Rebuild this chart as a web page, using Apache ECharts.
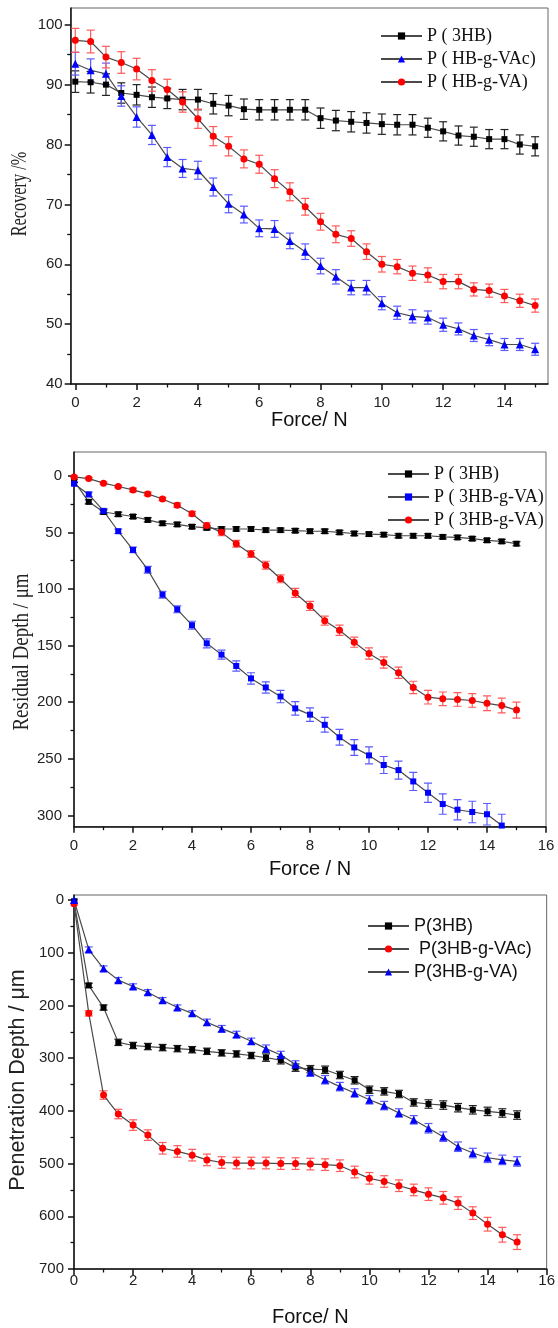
<!DOCTYPE html>
<html>
<head>
<meta charset="utf-8">
<script src="https://cdn.jsdelivr.net/npm/echarts@6/dist/echarts.min.js"></script>
<style>
html,body{margin:0;padding:0;background:#fff}
#chart{width:558px;height:1328px}
</style>
</head>
<body>
<div id="chart"></div>
<script>
// ---- Force steps (N) ----
const force = [0,0.5,1,1.5,2,2.5,3,3.5,4,4.5,5,5.5,6,6.5,7,7.5,8,8.5,9,9.5,10,10.5,11,11.5,12,12.5,13,13.5,14,14.5,15];

// ---- Recovery (%) ----
const rec3HB    = [90.5,90.4,90.0,88.6,88.3,87.9,87.7,87.5,87.5,86.8,86.5,85.9,85.8,85.8,85.8,85.8,84.4,84.0,83.8,83.6,83.4,83.3,83.3,82.8,82.2,81.5,81.3,80.9,80.9,80.0,79.7];
const rec3HBErr = [1.8,1.8,1.8,1.7,1.7,1.7,1.7,1.7,1.7,1.7,1.7,1.7,1.7,1.7,1.7,1.7,1.7,1.7,1.7,1.7,1.7,1.7,1.7,1.6,1.6,1.6,1.6,1.6,1.6,1.6,1.6];
const recVAc    = [93.5,92.4,91.8,88.1,84.6,81.6,77.9,76.0,75.7,72.9,70.1,68.3,66.0,65.9,63.9,62.1,59.7,57.9,56.1,56.1,53.5,51.9,51.3,51.1,49.9,49.2,48.1,47.4,46.6,46.6,45.8];
const recVAcErr = [1.9,1.9,1.8,1.7,1.7,1.6,1.6,1.5,1.5,1.5,1.5,1.4,1.4,1.4,1.3,1.3,1.3,1.2,1.2,1.2,1.1,1.1,1.1,1.1,1.1,1.0,1.0,1.0,1.0,1.0,1.0];
const recVA     = [97.4,97.2,94.6,93.7,92.6,90.7,89.2,87.1,84.3,81.4,79.7,77.6,76.7,74.3,72.1,69.6,67.1,65.0,64.3,62.1,60.0,59.6,58.5,58.2,57.1,57.1,55.8,55.6,54.7,53.9,53.1];
const recVAErr  = [2.0,1.9,1.8,1.8,1.8,1.8,1.7,1.7,1.6,1.6,1.6,1.5,1.5,1.5,1.5,1.4,1.4,1.4,1.3,1.3,1.3,1.2,1.2,1.2,1.2,1.2,1.1,1.1,1.1,1.1,1.1];

// ---- Residual depth (µm) ----
const res3HB     = [4.5,23,32,34,36,39,42,43,45,46,47,47,47,48,48,48.5,49,49,50,51,51.5,52,53,53,53,54,54.5,55.5,57,58,60];
const res3HBErr  = [1.5,1.8,1.8,1.8,1.8,1.8,1.8,1.8,1.8,1.8,1.8,1.8,1.8,1.8,1.8,1.8,1.8,1.8,1.8,1.8,1.8,1.8,1.8,1.8,1.8,1.8,1.8,1.8,1.8,1.8,1.8];
const resBlue    = [7,16.5,31,49,65.5,83,105,118,132,148,158,168,179,187,195,205.5,211,220,231,240,247,255.5,260,270,280,290,295,297,299,309];
const resBlueErr = [2,2,2,2,2.5,3,3,3,3.5,4,4,4.5,5,5,5.5,6,6,6.5,7,7,7.5,7.5,8,8,8.5,9,9,9.5,9.5,10];
const resRed     = [1,2.5,6.5,9.5,12.5,16,20.5,26,33.5,44,50,60,69,79,91,103.5,115,128,136.5,147,157,165,174,187,195.6,197,197.6,198.5,201,203,207];
const resRedErr  = [1,1,1,1,1.5,1.5,1.5,2,2,2.5,3,3,3,3.5,3.5,4,4,4,4.5,4.5,5,5,5,5.5,6,6,6,6,6.5,6.5,7];

// ---- Penetration depth (µm) ----
const pen3HB     = [2.5,162,204,270,276,278,280,282,284,287,290,292,295,299,304,318,321,322,332,342,360,363,368,384,387,389,394,398,401,404,408];
const pen3HBErr  = [3,4,5,6,6,6,6,6,6,6,6,6,6,7,7,7,7,7,7,7,7,7,7,7,8,8,8,8,8,8,8];
const penVAc     = [7,215,370,406,427,446,471,477,484,493,498,499,499,499,500,500,501,502,504,516,528,534,542,550,558,565,575,594,615,635,649];
const penVAcErr  = [3,5,8,9,10,10,11,11,11,11,11,11,11,11,11,11,11,11,11,11,11,11,11,11,12,12,12,12,13,14,14];
const penVA      = [0,94,130,152,164,175,190,204,215,232,244,255,268,282,294,312,327,341,354,366,379,390,404,417,433,449,468,480,489,493,496];
const penVAErr   = [2,5,5,5,5,5,5,5,5,6,6,6,6,7,7,7,7,8,8,8,8,8,8,8,9,9,9,9,9,9,9];

// ---- Tick positions ----
const recXMajor = [0,2,4,6,8,10,12,14];
const xMajor16  = [0,2,4,6,8,10,12,14,16];
const xMinor    = [1,3,5,7,9,11,13,15];
const recYMajor = [40,50,60,70,80,90,100];
const recYMinor = [45,55,65,75,85,95];
const resYMajor = [0,50,100,150,200,250,300];
const resYMinor = [25,75,125,175,225,275];
const penYMajor = [0,100,200,300,400,500,600,700];
const penYMinor = [50,150,250,350,450,550,650];

const RED = '#ff0000', BLUE = '#0000ff', BLACK = '#000000';
const LINE = '#4a4a4a';
const SANS = '"Liberation Sans", Arial, sans-serif';
const SERIF = '"Liberation Serif", "Times New Roman", serif';

const grids = [
  {left: 70.7, top: 8,   width: 477.3, height: 376},
  {left: 74,   top: 452, width: 472,   height: 374.7},
  {left: 74,   top: 895, width: 474,   height: 374}
].map(g => Object.assign({show: true, borderColor: '#666', borderWidth: 1, backgroundColor: 'transparent'}, g));

function mainX(gi, min, max, major, name, gap, labelMargin) {
  return {
    type: 'value', gridIndex: gi, position: 'bottom', min, max,
    name, nameLocation: 'middle', nameGap: gap,
    nameTextStyle: {fontFamily: SANS, fontSize: 20, color: '#111'},
    axisLine: {show: true, onZero: false, lineStyle: {color: '#111', width: 1.5}},
    axisTick: {show: true, customValues: major, length: 6, lineStyle: {color: '#111', width: 1.5}},
    axisLabel: {show: true, customValues: major, margin: labelMargin, fontFamily: SANS, fontSize: 15, color: '#222'},
    splitLine: {show: false}
  };
}
function minorX(gi, min, max, minor) {
  return {
    type: 'value', gridIndex: gi, position: 'bottom', min, max,
    axisLine: {show: false, onZero: false},
    axisTick: {show: true, customValues: minor, length: 3.5, lineStyle: {color: '#111', width: 1.3}},
    axisLabel: {show: false}, splitLine: {show: false}
  };
}
function mainY(gi, min, max, major, inverse, labelMargin) {
  return {
    type: 'value', gridIndex: gi, position: 'left', min, max, inverse,
    axisLine: {show: true, onZero: false, lineStyle: {color: '#111', width: 1.5}},
    axisTick: {show: true, customValues: major, length: 6, lineStyle: {color: '#111', width: 1.5}},
    axisLabel: {show: true, customValues: major, margin: labelMargin, fontFamily: SANS, fontSize: 15, color: '#222'},
    splitLine: {show: false}
  };
}
function minorY(gi, min, max, minor, inverse) {
  return {
    type: 'value', gridIndex: gi, position: 'left', min, max, inverse,
    axisLine: {show: false, onZero: false},
    axisTick: {show: true, customValues: minor, length: 3.5, lineStyle: {color: '#111', width: 1.3}},
    axisLabel: {show: false}, splitLine: {show: false}
  };
}

function lineSeries(gi, name, ys, color, symbol, size) {
  return {
    type: 'line', name, xAxisIndex: gi * 2, yAxisIndex: gi * 2,
    data: ys.map((y, i) => [force[i], y]),
    symbol, symbolSize: size, showSymbol: true,
    lineStyle: {color: LINE, width: 1.2},
    itemStyle: {color, borderWidth: 0},
    z: 4, animation: false, clip: true
  };
}

function errorSeries(gi, ys, es, color) {
  return {
    type: 'custom', xAxisIndex: gi * 2, yAxisIndex: gi * 2,
    data: ys.map((y, i) => [force[i], y, es[i]]),
    encode: {x: 0, y: 1},
    clip: true, silent: true, z: 3, animation: false,
    renderItem(params, api) {
      const x = api.value(0), y = api.value(1), e = api.value(2);
      const a = api.coord([x, y - e]);
      const b = api.coord([x, y + e]);
      const w = 4;
      const style = {stroke: color, lineWidth: 1.2};
      return {
        type: 'group',
        children: [
          {type: 'line', shape: {x1: a[0], y1: a[1], x2: b[0], y2: b[1]}, style},
          {type: 'line', shape: {x1: a[0] - w, y1: a[1], x2: a[0] + w, y2: a[1]}, style},
          {type: 'line', shape: {x1: b[0] - w, y1: b[1], x2: b[0] + w, y2: b[1]}, style}
        ]
      };
    }
  };
}

function legend(names, left, top, family) {
  return {
    data: names, orient: 'vertical', left, top,
    itemWidth: 41, itemHeight: 9, itemGap: 5,
    selectedMode: false,
    textStyle: {fontFamily: family, fontSize: 18, color: '#111'}
  };
}

const option = {
  backgroundColor: '#fff',
  animation: false,
  grid: grids,
  xAxis: [
    mainX(0, -0.15, 15.42, recXMajor, 'Force/ N', 24, 11), minorX(0, -0.15, 15.42, xMinor),
    mainX(1, 0, 16, xMajor16, 'Force / N', 33, 12),        minorX(1, 0, 16, xMinor),
    mainX(2, 0, 16, xMajor16, 'Force/ N', 38, 4),          minorX(2, 0, 16, xMinor)
  ],
  yAxis: [
    mainY(0, 40, 102.8, recYMajor, false, 8), minorY(0, 40, 102.8, recYMinor, false),
    mainY(1, -21, 310, resYMajor, true, 12),  minorY(1, -21, 310, resYMinor, true),
    mainY(2, -9.5, 700, penYMajor, true, 10), minorY(2, -9.5, 700, penYMinor, true)
  ],
  legend: [
    legend(['P ( 3HB)', 'P ( HB-g-VAc)', 'P ( HB-g-VA)'], 375, 22, SERIF),
    legend(['P ( 3HB) ', 'P ( 3HB-g-VA) ', 'P ( 3HB-g-VA)  '], 382, 460, SERIF),
    legend(['P(3HB)', ' P(3HB-g-VAc)', 'P(3HB-g-VA)'], 362, 912, SANS)
  ],
  graphic: [
    {type: 'text', x: 20, y: 194, rotation: Math.PI / 2, scaleX: 0.68,
     style: {text: 'Recovery /%', fontFamily: SERIF, fontSize: 24, fill: '#222', align: 'center', verticalAlign: 'middle'}},
    {type: 'text', x: 22, y: 652, rotation: Math.PI / 2, scaleX: 0.79,
     style: {text: 'Residual Depth / μm', fontFamily: SERIF, fontSize: 24, fill: '#222', align: 'center', verticalAlign: 'middle'}},
    {type: 'text', x: 18, y: 1080, rotation: Math.PI / 2,
     style: {text: 'Penetration Depth / μm', fontFamily: SANS, fontSize: 21.5, fill: '#222', align: 'center', verticalAlign: 'middle'}}
  ],
  series: [
    // Recovery
    errorSeries(0, rec3HB, rec3HBErr, '#222222'),
    errorSeries(0, recVAc, recVAcErr, '#5a5aff'),
    errorSeries(0, recVA, recVAErr, '#ff5a5a'),
    lineSeries(0, 'P ( 3HB)', rec3HB, BLACK, 'rect', 6),
    lineSeries(0, 'P ( HB-g-VAc)', recVAc, BLUE, 'triangle', 8),
    lineSeries(0, 'P ( HB-g-VA)', recVA, RED, 'circle', 7),
    // Residual depth
    errorSeries(1, res3HB, res3HBErr, '#222222'),
    errorSeries(1, resBlue, resBlueErr, '#5a5aff'),
    errorSeries(1, resRed, resRedErr, '#ff5a5a'),
    lineSeries(1, 'P ( 3HB) ', res3HB, BLACK, 'rect', 6),
    lineSeries(1, 'P ( 3HB-g-VA) ', resBlue, BLUE, 'rect', 6),
    lineSeries(1, 'P ( 3HB-g-VA)  ', resRed, RED, 'circle', 7),
    // Penetration depth
    errorSeries(2, pen3HB, pen3HBErr, '#222222'),
    errorSeries(2, penVAc, penVAcErr, '#ff5a5a'),
    errorSeries(2, penVA, penVAErr, '#5a5aff'),
    lineSeries(2, 'P(3HB)', pen3HB, BLACK, 'rect', 6),
    lineSeries(2, ' P(3HB-g-VAc)', penVAc, RED, 'circle', 7),
    lineSeries(2, 'P(3HB-g-VA)', penVA, BLUE, 'triangle', 8)
  ]
};

const chart = echarts.init(document.getElementById('chart'), null, {renderer: 'canvas'});
chart.setOption(option);
</script>
</body>
</html>
